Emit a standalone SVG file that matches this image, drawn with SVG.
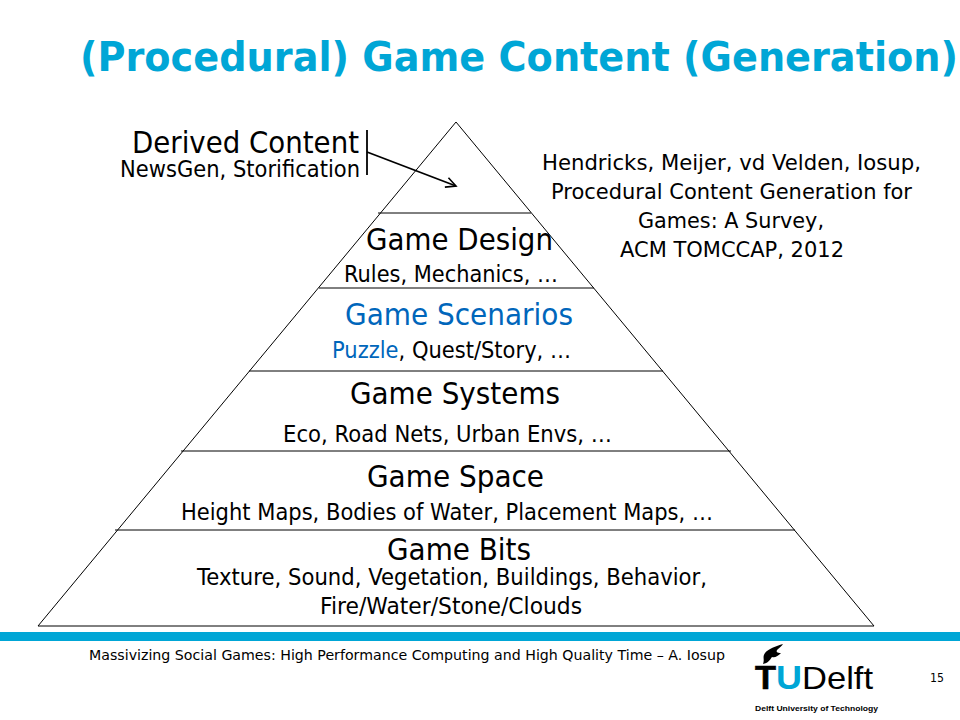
<svg xmlns="http://www.w3.org/2000/svg" width="960" height="720" viewBox="0 0 960 720">
<style>
text{font-family:"DejaVu Sans","Liberation Sans",sans-serif;fill:#000}
.h{font-size:31px;text-anchor:start}
.s{font-size:23px}
.d{font-size:21.5px}
.b{fill:#0066bb}
.l{stroke:#000;stroke-width:1;fill:none}
.c{stroke:#000;stroke-width:1.8;fill:none}
.lg{font-family:"Liberation Sans",sans-serif}
</style>
<defs>
<marker id="arr" markerWidth="14" markerHeight="12" refX="11" refY="6" orient="auto" markerUnits="userSpaceOnUse"><path d="M1 1L11 6L1 11" fill="none" stroke="#000" stroke-width="1.6"/></marker>
</defs>
<rect width="960" height="720" fill="#fff"/>
<text x="80" y="71" style="font-size:40px;font-weight:bold;fill:#00a6d6" textLength="878" lengthAdjust="spacingAndGlyphs">(Procedural) Game Content (Generation)</text>
<g id="pyramid">
<path class="l" d="M456 122L874 626H38Z"/>
<path class="l" d="M378 213H531M319 288H594M249 371H663M181 451H731M115 530H795"/>
</g>
<g id="derived-content">
<text class="h" x="132" y="153" textLength="227" lengthAdjust="spacingAndGlyphs">Derived Content</text>
<text class="s" x="120" y="177" textLength="240" lengthAdjust="spacingAndGlyphs">NewsGen, Storification</text>
</g>
<g id="connectors">
<path class="c" d="M367 130V175"/>
<path class="c" d="M367 152L456 186" marker-end="url(#arr)"/>
</g>
<g id="citation">
<text class="d" x="542" y="170" textLength="379" lengthAdjust="spacingAndGlyphs">Hendricks, Meijer, vd Velden, Iosup,</text>
<text class="d" x="551" y="199" textLength="361" lengthAdjust="spacingAndGlyphs">Procedural Content Generation for</text>
<text class="d" x="638" y="228" textLength="186" lengthAdjust="spacingAndGlyphs">Games: A Survey,</text>
<text class="d" x="620" y="257" textLength="224" lengthAdjust="spacingAndGlyphs">ACM TOMCCAP, 2012</text>
</g>
<g id="game-design">
<text class="h" x="366" y="250" textLength="187" lengthAdjust="spacingAndGlyphs">Game Design</text>
<text class="s" x="344" y="282" textLength="214" lengthAdjust="spacingAndGlyphs">Rules, Mechanics, …</text>
</g>
<g id="game-scenarios">
<text class="h b" x="345" y="325" textLength="228" lengthAdjust="spacingAndGlyphs">Game Scenarios</text>
<text class="s" x="332" y="358" textLength="239" lengthAdjust="spacingAndGlyphs"><tspan class="b">Puzzle</tspan>, Quest/Story, …</text>
</g>
<g id="game-systems">
<text class="h" x="350" y="404" textLength="210" lengthAdjust="spacingAndGlyphs">Game Systems</text>
<text class="s" x="283" y="442" textLength="329" lengthAdjust="spacingAndGlyphs">Eco, Road Nets, Urban Envs, …</text>
</g>
<g id="game-space">
<text class="h" x="367" y="487" textLength="177" lengthAdjust="spacingAndGlyphs">Game Space</text>
<text class="s" x="181" y="520" textLength="532" lengthAdjust="spacingAndGlyphs">Height Maps, Bodies of Water, Placement Maps, …</text>
</g>
<g id="game-bits">
<text class="h" x="387" y="560" textLength="144" lengthAdjust="spacingAndGlyphs">Game Bits</text>
<text class="s" x="197" y="585" textLength="510" lengthAdjust="spacingAndGlyphs">Texture, Sound, Vegetation, Buildings, Behavior,</text>
<text class="s" x="320" y="614" textLength="262" lengthAdjust="spacingAndGlyphs">Fire/Water/Stone/Clouds</text>
</g>
<rect id="footer-bar" x="0" y="632" width="960" height="9" fill="#00a6d6"/>
<g id="footer">
<text x="89" y="660" style="font-size:14px" textLength="636" lengthAdjust="spacingAndGlyphs">Massivizing Social Games: High Performance Computing and High Quality Time – A. Iosup</text>
<text x="930" y="682" style="font-size:12px" textLength="14" lengthAdjust="spacingAndGlyphs">15</text>
</g>
<g id="logo">
<path d="M783 644C776 646 768 649 765 653C762 657 765 659 763 664C768 663 770 660 772 657C775 658 778 656 781 653C777 653 776 652 777 650C779 648 782 646 783 644Z" fill="#000"/>
<text class="lg" x="755" y="689" style="font-size:33px;font-weight:bold;stroke:#000;stroke-width:.6" textLength="21" lengthAdjust="spacingAndGlyphs">T</text>
<text class="lg" x="776" y="689" style="font-size:33px;font-weight:bold;fill:#00a6d6" textLength="26" lengthAdjust="spacingAndGlyphs">U</text>
<text class="lg" x="802" y="689" style="font-size:32px" textLength="71" lengthAdjust="spacingAndGlyphs">Delft</text>
<text class="lg" x="755" y="711" style="font-size:8px;font-weight:bold" textLength="123" lengthAdjust="spacingAndGlyphs">Delft University of Technology</text>
</g>
</svg>
